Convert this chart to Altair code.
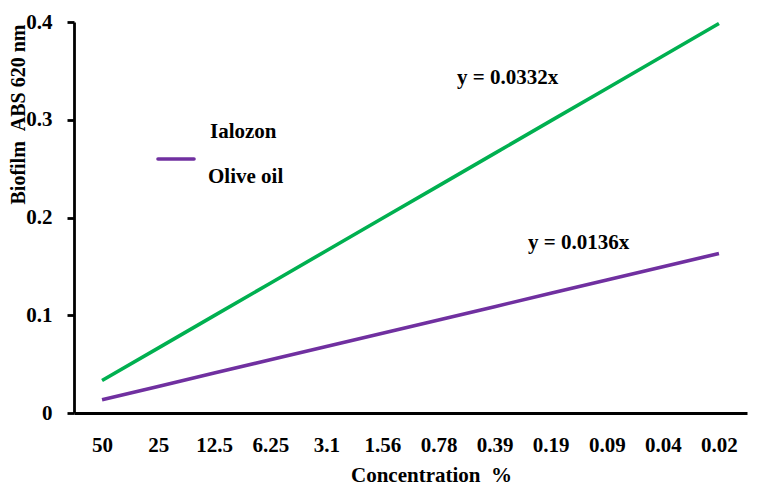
import altair as alt
import pandas as pd

categories = ["50", "25", "12.5", "6.25", "3.1", "1.56", "0.78", "0.39", "0.19", "0.09", "0.04", "0.02"]
ialozon = [0.0332, 0.0664, 0.0996, 0.1328, 0.166, 0.1992, 0.2324, 0.2656, 0.2988, 0.332, 0.3652, 0.3984]
olive_oil = [0.0136, 0.0272, 0.0408, 0.0544, 0.068, 0.0816, 0.0952, 0.1088, 0.1224, 0.136, 0.1496, 0.1632]
series_names = ["Ialozon", "Olive oil"]
series_colors = ["#00B050", "#7030A0"]
equations = ["y = 0.0332x", "y = 0.0136x"]

rows = []
for c, a, b in zip(categories, ialozon, olive_oil):
    rows.append({"conc": c, "series": series_names[0], "abs": a})
    rows.append({"conc": c, "series": series_names[1], "abs": b})
df = pd.DataFrame(rows)

FONT = "Liberation Serif"
W, H = 673, 391

x_scale = alt.Scale(type="point", domain=categories, padding=0.5)
y_scale = alt.Scale(domain=[0, 0.4])

lines = alt.Chart(df).mark_line(strokeWidth=3.6).encode(
    x=alt.X("conc:N", scale=x_scale, sort=categories,
            axis=alt.Axis(title="Concentration\u00a0\u00a0%", labelAngle=0, ticks=False, labelPadding=32,
                          labelBaseline="middle", labelFont=FONT, labelFontSize=21, labelFontWeight="bold",
                          labelColor="black", titleFont=FONT, titleFontSize=21, titleFontWeight="bold",
                          titleColor="black", titleX=357, titleY=62, titleBaseline="middle",
                          domainColor="black", domainWidth=2.8, grid=False)),
    y=alt.Y("abs:Q", scale=y_scale,
            axis=alt.Axis(title="Biofilm\u00a0\u00a0ABS 620 nm", values=[0, 0.1, 0.2, 0.3, 0.4],
                          format="~g", tickSize=7, tickWidth=2.8, tickColor="black",
                          domainColor="black", domainWidth=2.8, labelPadding=15,
                          labelFont=FONT, labelFontSize=21, labelFontWeight="bold", labelColor="black",
                          titleFont=FONT, titleFontSize=20, titleFontWeight="bold", titleColor="black",
                          titleAngle=-90, titleX=-56, titleY=92, titleAlign="center",
                          titleBaseline="middle", grid=False)),
    color=alt.Color("series:N", scale=alt.Scale(domain=series_names, range=series_colors), legend=None),
)

def txt(label, px, py):
    return alt.Chart(pd.DataFrame({"t": [label]})).mark_text(
        align="left", baseline="middle", font=FONT, fontSize=21, fontWeight="bold", color="black"
    ).encode(text="t:N", x=alt.value(px), y=alt.value(py))

eq1 = txt(equations[0], 383, 56)
eq2 = txt(equations[1], 454, 221)
leg1 = txt(series_names[0], 136, 110)
leg2 = txt(series_names[1], 134, 155)
leg_line = alt.Chart(pd.DataFrame({"a": [0]})).mark_rule(
    color=series_colors[1], strokeWidth=3.6, strokeCap="round"
).encode(x=alt.value(84), x2=alt.value(120), y=alt.value(137))

chart = alt.layer(lines, eq1, eq2, leg1, leg2, leg_line).properties(
    width=W, height=H,
    autosize=alt.AutoSizeParams(type="none"),
    padding={"left": 66, "top": 14, "right": 5, "bottom": 72},
).configure_view(stroke=None)

chart.save("out.html", embed_options={"renderer": "svg", "actions": False})
